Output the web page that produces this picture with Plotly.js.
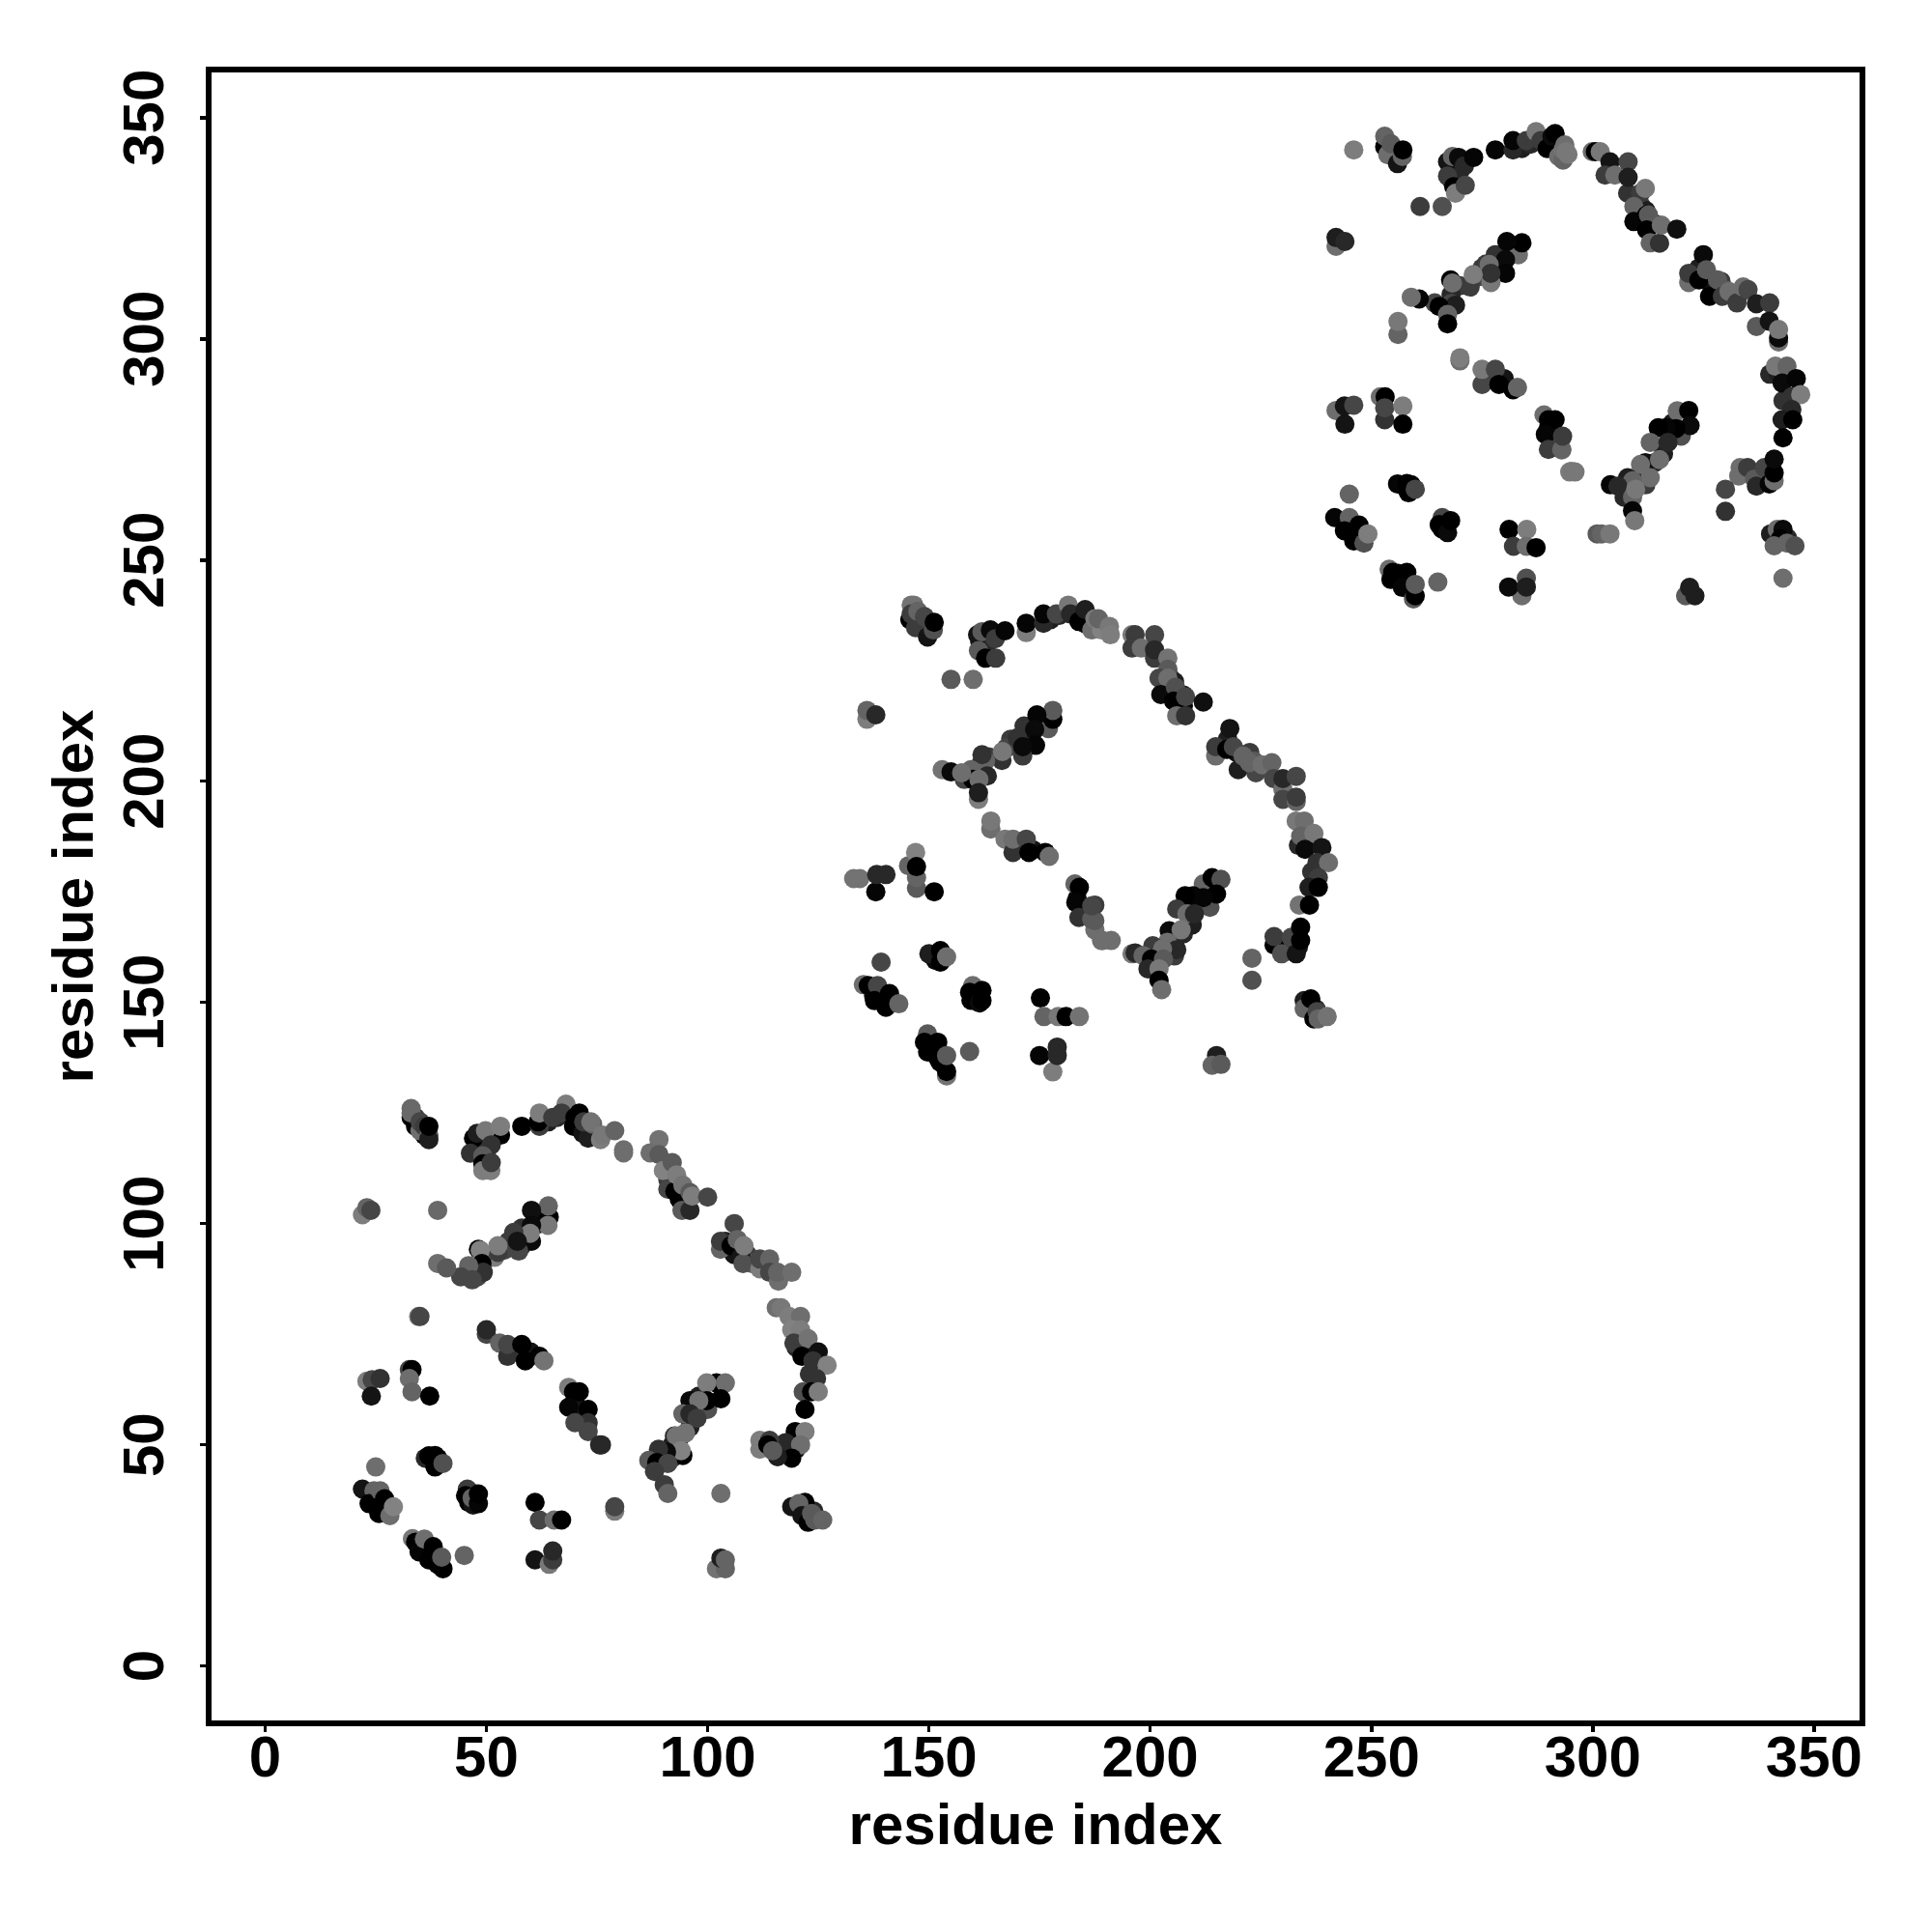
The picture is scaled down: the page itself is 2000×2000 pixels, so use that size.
<!DOCTYPE html>
<html><head><meta charset="utf-8">
<script src="https://cdn.plot.ly/plotly-3.0.1.min.js"></script>
<style>html,body{margin:0;padding:0;background:#fff}</style></head>
<body><div id="chart" style="width:2000px;height:2000px"></div>
<script>
// Each row: residue x, residue y, grey level of the point
const domain1 = [
[35,122,40],[36,121,30],[34,124,60],[48,118,20],[48,116,30],[50,118,40],[50,116,60],[64,123,30],[66,124,40],[68,125,20],[72,122,10],[74,120,30],[91,110,60],[92,109,30],[94,106,10],[95,105,50],[104,96,30],[106,93,20],[109,93,60],[110,91,90],[113,90,60],[120,72,40],[122,72,30],[123,66,50],[120,49,20],[117,48,30],[98,61,30],[92,50,30],[90,47,20],[92,47,60],[94,52,40],[96,54,30],[100,58,80],[58,95,30],[55,96,60],[54,94,70],[50,92,60],[48,90,40],[48,88,70],[61,101,0],[62,100,10],[58,99,50],[56,71,60],[60,71,20],[70,60,10],[71,58,20],[26,37,10],[24,38,0],[36,27,10],[38,25,5],[39,23,0],[46,37,0],[47,39,0],[38,46,10],[39,47,5],[123,35,20],[124,35,40],
[33,124,0],[34,122,0],[36,120,0],[33,126,105],[33,125,105],[35,121,110],[35,123,70],[36,122,60],[37,120,90],[37,119,30],[37,122,0],
[47.1,119.3,0],[47.9,120.4,30],[46.4,115.9,50],[53.2,120,0],[49.8,121,120],[53.2,122,125],[51.1,117.8,50],[49.2,115.3,90],[49.2,113.5,0],[49.2,112,125],[51,112,125],[51.1,113.8,60],
[58,122,0],[62,122,60],[61.7,123,0],[62,125,125],[65,124,60],[68,127,125],[67,125,60],[70,124,0],[69.7,122,0],
[71,125,0],[71.8,120.4,20],[73,119.3,30],[72,123,60],[74,122.5,100],[73.6,123,115],[75.8,119,125],[76.2,120,120],[79,121,100],[81,116.7,110],[81,116,110],
[89,119,115],[87,116,110],[89,115.6,90],[90,112,130],[92,113.8,90],[91,107.8,70],[92.6,107.3,0],[93.6,105.5,0],[93,111,125],[94.4,108.7,115],[94.2,103,90],[96,103,40],[96,107,90],[96.5,106.2,125],[100,106,70],
[106,100,70],[102.9,94.2,100],[102.9,96,60],[105.3,95,0],[106.7,96.4,100],[107.5,92.4,20],[108,91,80],[108.2,95,125],[111.8,89.8,125],[111.8,92,70],[114,92,100],[114,89,70],[116,87,110],[115.8,89,100],[119,89,110],
[115.5,81,110],[116.6,81,120],[118.4,79,125],[121,79,110],[119,76,130],[121,76,125],[119.5,73,60],[122.7,74,115],[121.3,70,0],[125,71,15],[123.8,69,50],[127,68,130],[124.6,65,50],[121.6,62,80],[123.5,62,0],[125,62,125],[122,58,0],
[119.8,53,0],[122,53,125],[118.7,50,0],[117.6,50.5,40],[121,50,110],[119,47,0],[115.8,47.3,30],[111.8,51,125],[111.8,49,125],[114,51,60],[113.6,50,0],[114.7,48.7,90],
[119,36,20],[122,37,0],[120.6,36.7,100],[121.3,34,20],[122.7,32.5,0],[123.5,34.5,90],[124.2,33,90],[126,33,100],
[102,22,115],[104,22,100],[103,24.4,30],[104,24,100],[79,35,125],[79,36,70],[103,39,110],
[102,64,0],[99.8,64,125],[104,64,110],[103,60.4,0],[99.8,60,0],[96,60,10],[98,60,115],[94.4,57,100],[96,57,40],[97.6,56,60],[92.5,52,40],[92.9,52,115],[95,52.7,115],[94.4,47.6,0],[94,48.7,130],[90.7,48.4,10],[88.9,49,50],[86.7,46.5,90],[88.5,46,0],[91,45.8,70],[88,44,60],[90.2,41,60],[91,39,100],
[71,62,0],[73,58,0],[73,55,50],[73,53,70],[75.6,50,40],[76,50,40],
[64.2,101.5,0],[63.9,99.6,120],[64,104,100],[60.2,103,15],[60.2,99.6,10],[60.2,96,10],[59.9,97.8,125],[56.2,98,60],[57.3,93.8,70],[57,96,20],[51.9,92.4,125],[52.6,93.5,60],[52.6,95,125],[48.2,94.2,0],[48.6,94,130],[49,91,0],[49.3,89,50],[46,90.5,100],[44.2,88,70],[46.8,87.3,70],[39,91,110],[41,90,90],
[22,102,125],[23,103.6,100],[23.9,103,70],[39,103,105],[34.7,79,125],[35,79,70],
[50,75,70],[50,76,40],[53,73,100],[54.8,70,50],[54.8,72.7,70],[58,72.7,0],[58.8,69,0],[62,70,0],[63,69,115],
[68.6,63,125],[69.7,62,0],[68.6,58.5,5],[70,55,70],
[23,64.4,125],[24.2,64.7,70],[26,65,50],[24,61,20],[32.6,67,70],[33.2,67,0],[32.6,65,110],[33.2,62,100],[37.2,61,0],
[36.2,47,40],[37,47.5,0],[38.4,47.6,0],[38.4,45,0],[40.2,45.8,80],[25,45,110],
[22,40,20],[24.6,39.6,100],[23.5,36.7,0],[26,39.6,100],[27,37.8,0],[25.7,34.5,0],[28.2,34,110],[29,36,130],
[45.7,40,60],[45.3,38.5,0],[47,36.4,20],[46.8,38,100],[48.2,36.7,5],[48.2,38.9,0],
[61,37,0],[62,33,70],[65.3,33,110],[67,33,0],[61,24,20],[64.2,23,120],[65,24,60],[65,26,40],
[33.3,28.8,120],[34,28,0],[34.8,25.8,5],[36,28.7,110],[37,24,0],[38,27,0],[40.2,22,0],[39.9,24.6,90],[45,25,100]
];
const domain2 = [
[148.5,235.5,40],[149.5,234.5,30],[147.5,237.5,60],[161.5,231.5,20],[161.5,229.5,30],[163.5,231.5,40],[177.5,236.5,30],[179.5,237.5,40],[181.5,238.5,20],[185.5,235.5,10],[204.5,223.5,60],[205.5,222.5,30],[207.5,219.5,10],[217.5,209.5,30],[219.5,206.5,20],[222.5,206.5,60],[223.5,204.5,90],[226.5,203.5,60],[233.5,185.5,40],[235.5,185.5,30],[236.5,179.5,50],[233.5,162.5,20],[230.5,161.5,30],[211.5,174.5,30],[205.5,163.5,30],[203.5,160.5,20],[205.5,160.5,60],[207.5,165.5,40],[209.5,167.5,30],[213.5,171.5,80],[171.5,208.5,30],[168.5,209.5,60],[167.5,207.5,70],[163.5,205.5,60],[161.5,203.5,40],[161.5,201.5,70],[174.5,214.5,0],[175.5,213.5,10],[171.5,212.5,50],[169.5,184.5,60],[173.5,184.5,20],[183.5,173.5,10],[184.5,171.5,20],[139.5,150.5,10],[137.5,151.5,0],[149.5,140.5,10],[151.5,138.5,5],[152.5,136.5,0],[159.5,150.5,0],[160.5,152.5,0],[151.5,159.5,10],[152.5,160.5,5],[236.5,148.5,20],[237.5,148.5,40],
[145.7,236.5,0],[146,239.8,115],[146.6,239.8,115],[146,237.8,60],[147,234.7,60],[147.5,238.4,100],[149,237.2,70],[149.7,232.6,20],[151,234.2,80],[151.2,235.9,0],
[161,233.1,20],[162,233.8,90],[161.2,229.5,90],[162.8,227.8,0],[165.1,227.8,60],[163.9,234.2,10],[165,232.2,60],[167.2,234,5],
[172,233.6,125],[172,235.7,5],[175.9,235.7,40],[175.9,237.8,5],[178.8,237.8,70],[181.5,239.8,120],[182,237.8,40],[183.9,236.1,0],[185.3,238.8,30],[186.8,234.2,110],[187.5,236.7,120],[189,234.2,130],
[188.3,236.7,100],[190.8,235,120],[191,233.1,125],
[195.9,233.1,120],[196.6,233.1,60],[195.9,230.1,60],[198,230.1,110],[201,233.1,70],[201,227.8,60],[201,229.7,40],[204,227.8,115],[204,225.3,90],[202,223.3,70],[204,223.3,110],[202.4,219.6,10],[205.7,221.2,80],[205.3,218.1,0],[207.5,217.1,0],[206,214.8,110],[208,214.8,50],[208,219.1,70],[212,217.9,15],
[218,211.9,20],[214.8,205.7,110],[214.8,207.8,60],[217.3,207.2,0],[218.8,207.8,70],[219.9,202.6,30],[221,205.7,100],[223.9,201.9,70],[222.4,204.2,100],[225.3,203.7,110],[227.5,204.2,100],[227.9,200.6,70],[230,198.2,110],[230,195.9,70],[233,195.4,100],[233,196.4,60],[230,200.6,40],[233,201.1,70],
[233,191,120],[234.8,191,110],[234,187.6,100],[237,188.2,120],[235,184.6,10],[238.8,185,20],[237.7,181.6,50],[240.3,181.6,110],[238,178.2,60],[235.9,176,30],[238,176,0],[233.7,172,115],[236,172,0],
[228,163,0],[228,164.9,60],[229.7,161,80],[231.9,164.7,70],[233,161,20],[234,164,0],[234,167,0],[223,160,100],[223,155,80],
[234.8,150.4,30],[234.8,148.6,100],[236.3,150.8,0],[237,146.3,0],[237.7,147.9,70],[238,146.3,100],[240,146.8,115],
[215,138,30],[214,135.8,100],[216,136,90],
[212,176.8,100],[214,178.2,0],[216,177.8,80],[215,174.5,0],[212,173.7,5],[209.7,174.1,5],[207.9,174.1,0],[206,171.1,60],[208.3,170,110],[210,170,40],[204.3,166.2,10],[207,166.4,120],[203.9,163.6,110],[206,161.9,40],[200.6,162.8,60],[202.8,162.1,110],[195.9,161,120],[196.6,161.2,40],[198.4,160.6,100],[200.3,159.8,0],[199.5,157.6,40],[203,159.8,90],[202,157.6,120],[202,155,0],[202.6,152.9,110],
[187.5,166.4,110],[187.5,168.5,90],[187.5,172,60],[189.2,164,110],[191.2,164,110],
[177,211.9,90],[178,214,0],[178,216,90],[174.4,215,5],[173.9,211.7,10],[174.1,208.1,5],[171.2,205.7,60],[170,209.8,50],[171.2,207.8,10],[166.5,204.7,50],[166.6,206.7,120],[162.8,204.6,100],[162,206,50],[163.2,201.2,40],[159.5,202.6,100],[158,200.4,70],[159.9,200.4,0],[161.3,200.4,110],[161.2,195.9,125],[161.2,197.4,30],[153,202.6,115],[155,202.1,10],[157.4,201.9,110],
[136,214,125],[136,216,100],[138,215,40],[155,223,90],[160,223,110],
[164,189.2,110],[164,191,120],[167.2,186.9,120],[169,183.9,50],[169,186.9,110],[172,186.9,70],[172.6,183.9,0],[176.3,183.9,0],[177.2,183,110],
[183,176.8,100],[184,176,0],[183.2,172.6,5],[183.9,169.2,50],[186.8,168.8,90],[186.8,171.8,70],[189,164,110],
[133,178,115],[134.4,178,115],[138,175,5],[138.2,178.9,40],[140.3,178.9,40],
[145.4,180.9,100],[147.2,175.8,90],[147.2,178.2,100],[147,183.9,130],[147.2,180.7,0],[151.2,175,0],
[150,161,30],[152.6,159.1,0],[152.6,161.7,0],[154,160.3,110],[139.2,159.1,70],
[135.2,154,110],[136.3,153.8,0],[138.4,153.8,70],[137.7,150.4,0],[140.3,148.9,0],[141.1,152,0],[143.2,149.7,100],
[159.9,153.8,110],[159.2,152.3,0],[161.4,149.9,10],[162,150.4,0],[162,152.7,0],
[175.2,151,0],[176,146.8,100],[179.2,146.8,120],[181,146.8,0],[184,146.8,115],
[178,134.3,125],[175,138,5],[179,138,40],[179,139.9,40],
[149.7,142.9,90],[149,141,0],[149.7,138.8,0],[152,141,0],[151.9,137.6,0],[154,133.4,115],[154,134.4,0],[154,138,90],[159.2,138.9,90]
];
const domain3 = [
[255,342,40],[256,341,30],[254,344,60],[268,338,20],[268,336,30],[270,338,40],[284,343,30],[286,344,40],[288,345,20],[292,342,10],[311,330,60],[312,329,30],[314,326,10],[324,316,30],[326,313,20],[329,313,60],[330,311,90],[333,310,60],[340,292,40],[342,292,30],[343,286,50],[340,269,20],[337,268,30],[318,281,30],[312,270,30],[310,267,20],[312,267,60],[314,272,40],[316,274,30],[320,278,80],[278,315,30],[275,316,60],[274,314,70],[270,312,60],[268,310,40],[268,308,70],[281,321,0],[282,320,10],[278,319,50],[276,291,60],[280,291,20],[290,280,10],[291,278,20],[246,257,10],[244,258,0],[256,247,10],[258,245,5],[259,243,0],[266,257,0],[267,259,0],[258,266,10],[259,267,5],[343,255,20],[344,255,40],
[246,342.7,125],
[253,343.4,0],[253,345.8,100],[253.7,341.6,110],[254.4,344.1,90],[255.9,339.6,20],[257,341.2,100],[257.1,342.7,0],
[267.2,340,20],[268.3,341.2,100],[267.2,336.8,60],[268.6,334.4,0],[269,332.9,125],[271.2,334.7,70],[269.7,341,10],[271,339.1,40],[273.1,341,5],
[261,329.9,60],[266,329.9,80],
[278,342.7,5],[282,342.7,40],[282,344.8,5],[285,344.8,60],[287.2,346.8,120],[288.3,344.8,60],[289.7,343,0],[290.8,345.8,10],[291.5,346.4,0],[292.3,341.2,110],[293.3,340.4,100],[293.3,342.7,115],[293.7,343.8,110],[294,342.3,120],[294.4,341.7,120],
[299.9,342.3,110],[300.6,342.3,0],[301.7,342.3,120],[303.9,340,20],[302.8,337,60],[305,337,110],[308,340,70],[307.9,332.9,50],[308,336.5,30],[310.8,332.9,60],[311.9,334,120],[309.3,329.9,100],[309.3,326.5,5],[312.2,328,0],[312.6,328,90],[312.2,324.6,0],[313,321.7,100],[315.1,321.6,50],[315.5,325.7,110],[319,324.8,15],
[325,319,10],[321.7,312.7,110],[321.7,314.8,60],[324,313.3,0],[325.7,315.6,90],[326.4,309.6,0],[328.2,313.3,90],[329.3,309.6,60],[330.8,310.7,110],[332.6,308.1,60],[334,311.7,110],[335.1,311.1,70],[337,302.8,90],[337,307.9,30],[340,308.1,60],[339.9,304,20],[342,299.3,110],[342,300.2,10],[342,302.1,120],
[341.3,293.8,120],[343.9,293.8,100],[342.8,290,10],[346,291,5],[345,286.9,50],[347,287.4,125],[345,284,40],[342.8,281.7,30],[345.2,281.7,0],[343,277.6,0],
[333,269,110],[333.3,270.9,110],[335,270.9,60],[336.6,268.3,90],[337,266.7,40],[338.8,270.9,70],[339.9,267.2,5],[341,267.9,110],[341,269.7,0],[341,272.8,10],
[330,266,70],[330,261,50],
[340.2,255.9,30],[341.7,256.9,110],[343,256.9,10],[342.4,254.8,0],[341,253.2,100],[343.9,253.8,100],[345.7,253.2,80],[343,245.9,110],
[321,241.9,90],[321.9,243.8,30],[323.1,241.9,30],[301,255.9,90],[302,255.9,100],[303.9,255.9,120],
[319.1,283.7,110],[321.7,283.8,0],[322,280.4,10],[318.8,279.7,0],[316.6,279.9,5],[314.8,279.9,0],[313,276.6,100],[317,276.6,40],[311.9,272,15],[315.1,272.7,110],[310.8,271.6,110],[313,268.6,110],[307.9,268.6,30],[309,267.9,100],[304,267,5],[305.7,266.7,40],[307.1,264.2,40],[309,264.2,100],[309.7,266,120],[309,261.1,5],[309.5,258.9,120],
[291.5,281.7,0],[293,274.9,110],[293,277.6,70],[294.8,269.9,125],[296,269.9,120],
[283.2,319,110],[284,321.7,0],[280.6,322,5],[280.3,317.9,10],[280.3,314.8,5],[275.9,316.9,60],[276.6,316.8,110],[277,312.7,120],[277,314.8,50],[272.3,311.7,60],[273,314.5,125],[267.9,313.3,0],[268.3,312.6,110],[269,307.6,30],[264.3,308.1,70],[265.3,307.3,0],[267.2,305.5,100],[267.2,303.4,0],[260.8,309,5],[259,309.4,110],
[256,301,100],[256,303.9,120],[242,320.9,110],[242,322.9,30],[244,322,40],
[270,295,110],[270,295.7,125],
[275,289.7,70],[275,293.1,120],[278,293.1,70],[278.8,289.7,0],[282,288.5,0],[283,289,100],
[289,282.8,110],[290,281.7,0],[289.3,278.4,5],[290,275,60],[293,275,100],[293.2,278,60],[295.2,270,120],
[242,283.8,110],[243.9,284.8,20],[246,285,70],[244,280.7,20],
[252,286.9,110],[253.1,286.9,0],[253,281.7,50],[253,284.4,70],[257.1,284.8,125],[257.1,280.7,0],
[255.9,267.2,5],[258,267.3,0],[258.4,265.2,0],[259.9,266,70],[245,264.9,100],
[241.7,259.6,5],[245,259.6,100],[243.9,256.6,0],[247.2,257.9,0],[246,254.3,0],[248.3,253.8,80],[249.2,255.9,125],
[266,259.6,70],[265.3,258,0],[267.2,256.2,10],[267.9,258.9,0],[281.1,256.9,0],[285.1,256.9,125],
[282.1,253.1,60],[285,253.1,110],[287.2,252.8,0],[285,245.9,80],[284,241.9,110],[281,243.9,10],[285,243.9,30],[265,245,100],
[254,247.9,110],[254.8,247.2,0],[254.4,245.6,0],[258,247.2,0],[257,243.8,5],[259.5,241.2,90],[259.9,241.9,0],[259.9,244.5,90]
];
const tickValues = [0,50,100,150,200,250,300,350];
const axisTitle = "residue index";
const font = {family:'"Liberation Sans", Arial, sans-serif', color:'#000', weight:700};

const traces = [domain1,domain2,domain3].map(rows=>({
  type:'scatter', mode:'markers', hoverinfo:'skip', showlegend:false,
  x:rows.map(r=>r[0]), y:rows.map(r=>r[1]),
  marker:{size:20, line:{width:0}, color:rows.map(r=>`rgb(${r[2]},${r[2]},${r[2]})`)}
}));
const axis = {
  tickmode:'array', tickvals:tickValues, ticktext:tickValues.map(String),
  showgrid:false, zeroline:false, showline:true, mirror:true, linecolor:'#000', linewidth:5.7,
  ticks:'outside', ticklen:6.5, tickwidth:3.6, tickcolor:'#000',
  tickfont:Object.assign({size:60},font)
};
const layout = {
  width:2000, height:2000, paper_bgcolor:'#fff', plot_bgcolor:'#fff', showlegend:false,
  margin:{l:219,r:75,t:75,b:219,pad:0},
  xaxis:Object.assign({},axis,{range:[-12.1,360.3],ticklabelstandoff:-26,
    title:{text:axisTitle,font:Object.assign({size:60},font),standoff:18}}),
  yaxis:Object.assign({},axis,{range:[-12.3,360.2],tickangle:-90,ticklabelstandoff:14,ticklabelshift:9,
    title:{text:axisTitle,font:Object.assign({size:60},font),standoff:1}})
};
Plotly.newPlot('chart',traces,layout,{staticPlot:true,displayModeBar:false});
</script></body></html>
